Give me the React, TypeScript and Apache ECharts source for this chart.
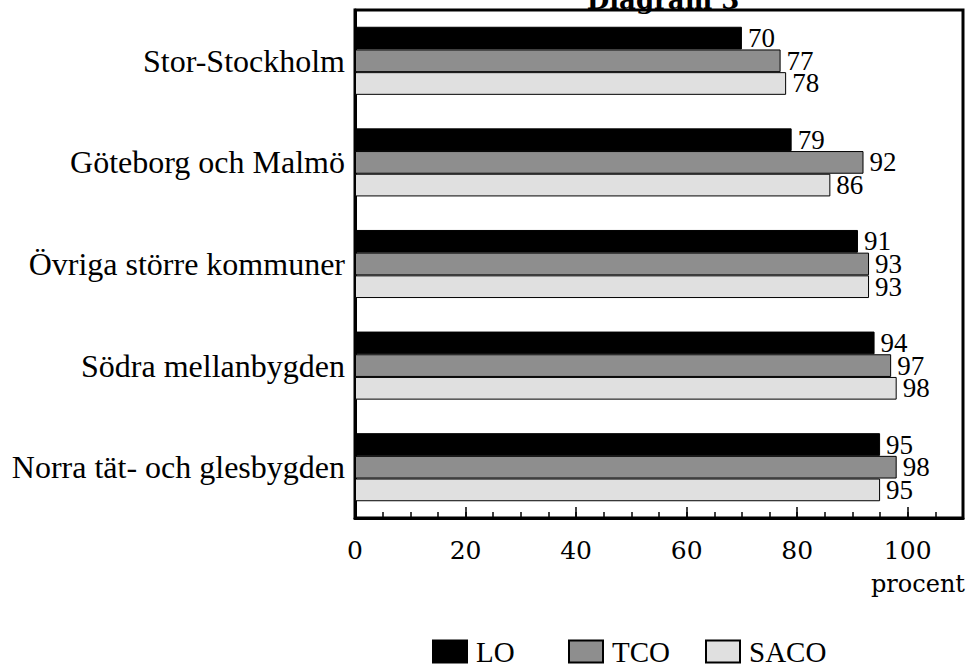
import React, { useEffect, useRef } from "react";
import * as echarts from "echarts";

const categories = [
  "Stor-Stockholm",
  "Göteborg och Malmö",
  "Övriga större kommuner",
  "Södra mellanbygden",
  "Norra tät- och glesbygden",
];
const loValues = [70, 79, 91, 94, 95];
const tcoValues = [77, 92, 93, 97, 98];
const sacoValues = [78, 86, 93, 98, 95];
const seriesNames = ["LO", "TCO", "SACO"];
const seriesColors = ["#000000", "#8e8e8e", "#e0e0e0"];
const titleText = "Diagram 3";
const unitText = "procent";

export default function App() {
  const ref = useRef<HTMLDivElement>(null);
  useEffect(() => {
    if (!ref.current) return;
    const chart = echarts.init(ref.current, null, { renderer: "svg" });
    const valueSets = [loValues, tcoValues, sacoValues];
    const legendLefts = [427, 563, 700];
    const option: any = {
      animation: false,
      backgroundColor: "#ffffff",
      grid: {
        left: 355,
        right: 9,
        top: 10,
        bottom: 151,
        show: true,
        borderColor: "#000",
        borderWidth: 3,
        backgroundColor: "transparent",
      },
      xAxis: [
        {
          type: "value",
          min: 0,
          max: 110,
          interval: 20,
          position: "bottom",
          axisLine: { show: true, lineStyle: { color: "#000", width: 3 } },
          axisTick: {
            show: true,
            inside: true,
            length: 11,
            lineStyle: { color: "#000", width: 1.5 },
          },
          splitLine: { show: false },
          axisLabel: {
            showMaxLabel: false,
            margin: 20,
            color: "#000",
            fontFamily: "DejaVu Serif",
            fontSize: 25,
            formatter: (v: number) => (v > 100 ? "" : String(v)),
          },
        },
        {
          type: "value",
          min: 0,
          max: 110,
          interval: 5,
          position: "bottom",
          offset: 0,
          axisLine: { show: false },
          axisTick: {
            show: true,
            inside: true,
            length: 6,
            lineStyle: { color: "#000", width: 1.5 },
          },
          splitLine: { show: false },
          axisLabel: { show: false },
        },
      ],
      yAxis: {
        type: "category",
        inverse: true,
        data: categories,
        axisLine: { show: true, lineStyle: { color: "#000", width: 3 } },
        axisTick: { show: false },
        axisLabel: {
          margin: 10,
          color: "#000",
          fontFamily: "Liberation Serif",
          fontSize: 32,
        },
      },
      legend: seriesNames.map((n, i) => ({
        data: [n],
        left: legendLefts[i],
        top: 632,
        icon: "rect",
        itemWidth: 34,
        itemHeight: 22,
        itemStyle: { borderColor: "#000", borderWidth: 2 },
        textStyle: {
          color: "#000",
          fontFamily: "Liberation Serif",
          fontSize: 29,
          lineHeight: 26,
          padding: [0, 0, 0, 4],
        },
        selectedMode: false,
      })),
      series: seriesNames.map((n, i) => ({
        name: n,
        type: "bar",
        xAxisIndex: 0,
        data: valueSets[i],
        barGap: "0%",
        barCategoryGap: "33%",
        itemStyle: { color: seriesColors[i], borderColor: "#000", borderWidth: 1 },
        label: {
          show: true,
          position: "right",
          distance: 6,
          color: "#000",
          fontFamily: "Liberation Serif",
          fontSize: 27,
          lineHeight: 21,
        },
      })),
      graphic: [
        {
          type: "text",
          x: 663,
          y: 0,
          style: {
            text: titleText,
            fill: "#000",
            font: "bold 26px 'DejaVu Serif'",
            textAlign: "center",
            textVerticalAlign: "middle",
            align: "center",
            verticalAlign: "middle",
          },
        },
        {
          type: "text",
          x: 965,
          y: 584,
          style: {
            text: unitText,
            fill: "#000",
            font: "24px 'DejaVu Serif'",
            textAlign: "right",
            textVerticalAlign: "middle",
            align: "right",
            verticalAlign: "middle",
          },
        },
      ],
    };
    chart.setOption(option);
    return () => chart.dispose();
  }, []);
  return (
    <div
      ref={ref}
      style={{ position: "absolute", left: 0, top: 0, width: 972, height: 669 }}
    />
  );
}
